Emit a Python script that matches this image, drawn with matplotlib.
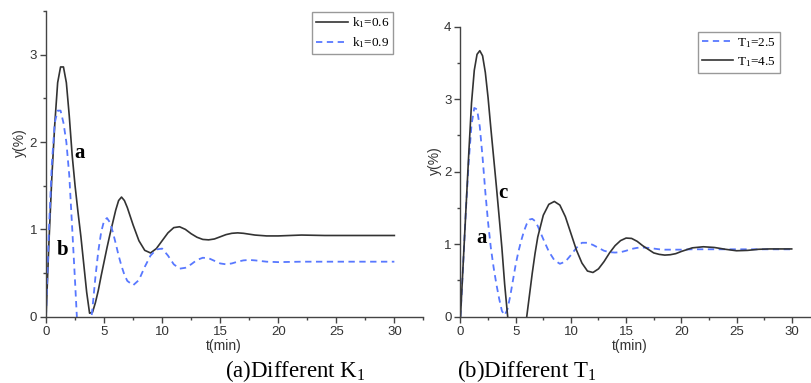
import numpy as np
import matplotlib.pyplot as plt

# (a) different k1
t_a = [0, 0.25, 0.5, 0.75, 1.0, 1.25, 1.5, 1.75, 2.0, 2.25, 2.5, 2.75, 3.0, 3.25, 3.5,
       3.75, 4.0, 4.25, 4.5, 4.75, 5.0, 5.25, 5.5, 5.75, 6.0, 6.25, 6.5, 6.75, 7.0, 7.5,
       8.0, 8.5, 9.0, 9.5, 10.0, 10.5, 11.0, 11.5, 12.0, 12.5, 13.0, 13.5, 14.0, 14.5,
       15.0, 15.5, 16.0, 16.5, 17.0, 17.5, 18.0, 19.0, 20.0, 22.0, 24.0, 26.0, 28.0, 30.0]
k1_06 = [0, 0.85, 1.6, 2.2, 2.68, 2.86, 2.86, 2.68, 2.3, 1.85, 1.5, 1.2, 0.92, 0.6, 0.28,
         0.04, 0.05, 0.16, 0.3, 0.47, 0.63, 0.79, 0.94, 1.08, 1.22, 1.33, 1.37, 1.33, 1.25, 1.05,
         0.87, 0.76, 0.73, 0.78, 0.87, 0.96, 1.02, 1.03, 1.0, 0.95, 0.91, 0.885, 0.88, 0.89,
         0.915, 0.94, 0.955, 0.96, 0.955, 0.945, 0.935, 0.925, 0.925, 0.935, 0.93, 0.93, 0.93, 0.93]
k1_09 = [0, 1.0, 1.75, 2.22, 2.36, 2.36, 2.22, 2.0, 1.62, 1.02, 0.4, -0.25, -0.6, -0.7, -0.55,
         -0.2, 0.1, 0.45, 0.75, 0.97, 1.1, 1.13, 1.08, 0.97, 0.84, 0.7, 0.58, 0.48, 0.41, 0.36,
         0.42, 0.57, 0.7, 0.77, 0.78, 0.7, 0.6, 0.55, 0.56, 0.6, 0.65, 0.675, 0.67, 0.64,
         0.61, 0.6, 0.61, 0.63, 0.645, 0.65, 0.645, 0.63, 0.625, 0.63, 0.63, 0.63, 0.63, 0.63]

# (b) different T1
t_b = [0, 0.25, 0.5, 0.75, 1.0, 1.25, 1.5, 1.75, 2.0, 2.25, 2.5, 2.75, 3.0, 3.25, 3.5,
       3.75, 4.0, 4.25, 4.5, 4.75, 5.0, 5.25, 5.5, 5.75, 6.0, 6.25, 6.5, 6.75, 7.0, 7.5,
       8.0, 8.5, 9.0, 9.5, 10.0, 10.5, 11.0, 11.5, 12.0, 12.5, 13.0, 13.5, 14.0, 14.5,
       15.0, 15.5, 16.0, 16.5, 17.0, 17.5, 18.0, 18.5, 19.0, 19.5, 20.0, 21.0, 22.0, 23.0,
       24.0, 25.0, 26.0, 27.0, 28.0, 30.0]
T1_25 = [0, 0.75, 1.5, 2.15, 2.65, 2.88, 2.86, 2.62, 2.2, 1.72, 1.3, 0.95, 0.68, 0.45, 0.25,
         0.08, 0.02, 0.1, 0.28, 0.5, 0.72, 0.9, 1.05, 1.18, 1.28, 1.34, 1.35, 1.32, 1.25, 1.07,
         0.9, 0.78, 0.73, 0.76, 0.85, 0.95, 1.02, 1.02, 0.99, 0.95, 0.91, 0.89, 0.885, 0.89,
         0.91, 0.935, 0.95, 0.955, 0.95, 0.94, 0.93, 0.925, 0.925, 0.925, 0.925, 0.93, 0.93, 0.93,
         0.93, 0.93, 0.93, 0.93, 0.93, 0.93]
T1_45 = [0, 0.75, 1.5, 2.25, 2.95, 3.4, 3.62, 3.67, 3.6, 3.37, 3.02, 2.6, 2.2, 1.8, 1.38,
         0.95, 0.45, 0.04, -0.35, -0.65, -0.8, -0.78, -0.6, -0.3, 0.0, 0.3, 0.6, 0.87, 1.1, 1.4,
         1.55, 1.59, 1.54, 1.38, 1.15, 0.92, 0.74, 0.63, 0.61, 0.66, 0.76, 0.88, 0.98, 1.05,
         1.085, 1.08, 1.04, 0.98, 0.93, 0.88, 0.86, 0.85, 0.855, 0.87, 0.9, 0.95, 0.965, 0.955,
         0.93, 0.91, 0.915, 0.93, 0.935, 0.935]

plt.rcParams['mathtext.default'] = 'regular'
sans = 'Liberation Sans'
serif = 'Liberation Serif'
dark = '#333333'
blue = '#5878ff'

fig = plt.figure(figsize=(8.12, 3.83), dpi=100)
ax1 = fig.add_axes([0.0567, 0.1731, 0.4647, 0.798])
ax2 = fig.add_axes([0.5671, 0.1731, 0.4419, 0.757])


def style_axes(ax, ymax, ylab_x, ylab_y, xlab_y):
    ax.set_xlim(0, 32.5)
    ax.set_ylim(0, ymax)
    ax.spines['top'].set_visible(False)
    ax.spines['right'].set_visible(False)
    for s in ['left', 'bottom']:
        ax.spines[s].set_color('#444444')
        ax.spines[s].set_linewidth(1.0)
    ax.set_xticks(np.arange(0, 31, 5))
    ax.set_xticks(np.arange(2.5, 33, 5), minor=True)
    ax.set_yticks(np.arange(0, ymax + 0.01, 1))
    ax.set_yticks(np.arange(0.5, ymax + 0.01, 1), minor=True)
    ax.tick_params(which='major', direction='out', length=4.5, width=1, color='#444444',
                   labelsize=9.5, labelcolor=dark, pad=2)
    ax.tick_params(which='minor', direction='out', length=2.5, width=1, color='#444444')
    for lab in ax.get_xticklabels() + ax.get_yticklabels():
        lab.set_fontfamily(sans)
    ax.set_xlabel('t(min)', fontsize=10, family=sans, color=dark)
    ax.set_ylabel('y(%)', fontsize=10, family=sans, color=dark)
    ax.xaxis.set_label_coords(0.472, xlab_y)
    ax.yaxis.set_label_coords(ylab_x, ylab_y)


style_axes(ax1, 3.5, -0.050, 0.568, -0.072)
style_axes(ax2, 4.0, -0.052, 0.54, -0.076)

ax1.plot(t_a, k1_06, color=dark, lw=1.2, label='k$_1$=0.6')
ax1.plot(t_a, k1_09, color=blue, lw=1.3, dashes=(3.5, 2.5), label='k$_1$=0.9')
ax2.plot(t_b, T1_25, color=blue, lw=1.3, dashes=(3.5, 2.5), label='T$_1$=2.5')
ax2.plot(t_b, T1_45, color=dark, lw=1.2, label='T$_1$=4.5')

for ax, anchor in [(ax1, (393 / 812, 1 - 11.5 / 383)), (ax2, (780 / 812, 1 - 32 / 383))]:
    leg = ax.legend(loc='upper right', bbox_to_anchor=anchor, bbox_transform=fig.transFigure,
                    prop={'family': serif, 'size': 9.5}, fancybox=False, framealpha=1,
                    edgecolor='#999999', handlelength=2.4, handletextpad=0.3,
                    borderpad=0.3, labelspacing=0.4, borderaxespad=0)
    leg.get_frame().set_linewidth(1.0)

# curve labels
ax1.text(2.93, 1.87, 'a', fontsize=15, fontweight='bold', family=serif, ha='center', va='center')
ax1.text(1.46, 0.76, 'b', fontsize=15, fontweight='bold', family=serif, ha='center', va='center')
ax2.text(3.85, 1.71, 'c', fontsize=15, fontweight='bold', family=serif, ha='center', va='center')
ax2.text(1.95, 1.09, 'a', fontsize=15, fontweight='bold', family=serif, ha='center', va='center')

# captions
fig.text(225 / 812, 0.0165, '(a)Different K$_1$', fontsize=16.5, family=serif, va='baseline')
fig.text(456.7 / 812, 0.0165, '(b)Different T$_1$', fontsize=16.5, family=serif, va='baseline')

fig.savefig('out.png', dpi=100)
